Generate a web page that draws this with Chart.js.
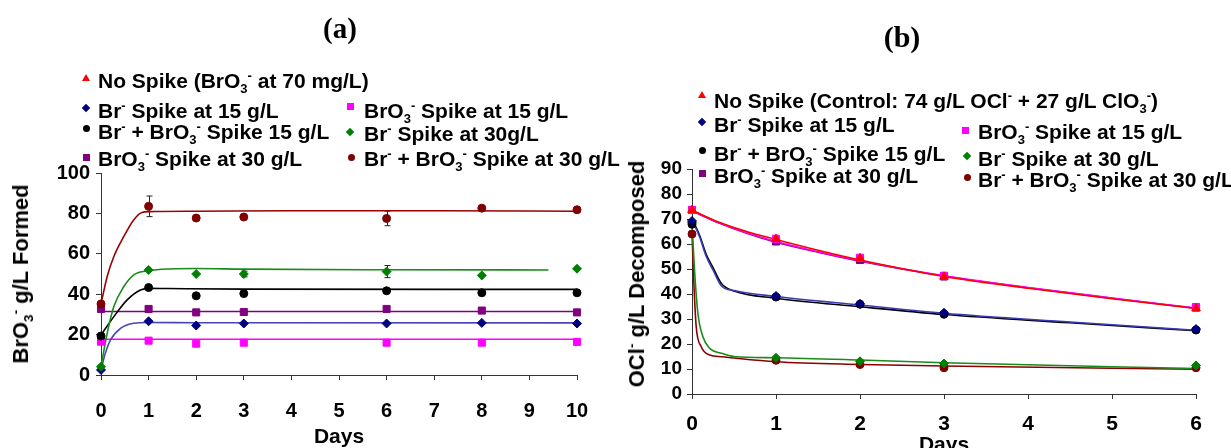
<!DOCTYPE html>
<html lang="en">
<head>
<meta charset="UTF-8">
<title>Bromate formed and hypochlorite decomposed</title>
<script src="https://cdn.jsdelivr.net/npm/chart.js"></script>
<style>
  body { margin:0; width:1231px; height:448px; overflow:hidden; position:relative; background:#fff;
         font-family:'Liberation Sans', Arial, sans-serif; font-weight:bold; color:#000; }
  canvas { position:absolute; top:0; }
  .panel-title { position:absolute; font-family:'Liberation Serif','Times New Roman',serif; font-weight:bold;
                 transform:translate(-50%,-50%); line-height:1; }
  .ytitle { position:absolute; font-size:22px; white-space:nowrap; line-height:1;
            transform:translate(-50%,-50%) rotate(-90deg); }
  .key { position:absolute; font-size:21px; line-height:21px; white-space:nowrap; }
  sub, sup { font-size:0.62em; line-height:0; }
  .mk { position:absolute; box-sizing:border-box; }
</style>
</head>
<body>
<canvas id="chartA" width="615" height="448" style="left:0"></canvas>
<canvas id="chartB" width="616" height="456" style="left:615px"></canvas>
<div class="panel-title" style="left:340px;top:28px;font-size:29px">(a)</div>
<div class="panel-title" style="left:902px;top:37px;font-size:30px">(b)</div>
<div class="ytitle" style="left:21px;top:274px">BrO<sub>3</sub><sup>-</sup> g/L Formed</div>
<div class="ytitle" style="left:637px;top:274px">OCl<sup>-</sup> g/L Decomposed</div>
<div id="keys"></div>

<script>
// ---- (a) bromate formed, g/L ----
const daysA = [0, 1, 2, 3, 6, 8, 10];
const brSpike15A      = [2.5, 26.6, 24.5, 25.5, 25.5, 25.8, 25.5];
const bromateSpike15A = [16.5, 17.0, 15.5, 16.0, 16.0, 16.0, 16.4];
const mixSpike15A     = [19.3, 43.3, 39.2, 40.3, 41.7, 40.7, 40.7];
const brSpike30A      = [4.1, 52.0, 50.0, 50.0, 51.2, 49.3, 52.6];
const bromateSpike30A = [32.7, 32.7, 31.0, 31.2, 32.7, 31.9, 31.0];
const mixSpike30A     = [35.2, 83.5, 77.7, 78.2, 77.5, 82.6, 81.8];
const brSpike30ErrA   = [0, 0, 0, 1.4, 3.0, 0, 0];
const mixSpike30ErrA  = [0, 5.1, 0, 0, 3.6, 0, 1.2];

// fitted trend curves (day, g/L)
const brFit15A      = [[0,2.5],[0.09,10.7],[0.2,17.4],[0.41,23.1],[0.69,25.6],[1,26],[2,25.9],[10,25.8]];
const bromateFit15A = [[0,17.7],[10,17.7]];
const mixFit15A     = [[0,19.8],[0.27,28.9],[0.55,37.2],[0.83,42.1],[1,42.9],[1.4,42.8],[3,42.5],[10,42.4]];
const brFit30A      = [[0,4.1],[0.13,20.7],[0.27,33.9],[0.48,43.8],[0.69,49.6],[1,51.6],[1.45,52.5],[2,52.7],[3,52.4],[6,52.1],[9.4,52]];
const bromateFit30A = [[0,31.4],[10,31.4]];
const mixFit30A     = [[0,35.2],[0.13,48.8],[0.27,58.7],[0.48,68.6],[0.69,76.9],[0.86,80.5],[1,80.9],[2,81.1],[4,81.3],[7,81.3],[10,81.1]];

// ---- (b) hypochlorite decomposed, g/L ----
const daysB = [0, 1, 2, 3, 6];
const noSpikeB        = [73.6, 62.0, 54.3, 46.9, 34.2];
const brSpike15B      = [69.2, 39.2, 36.1, 32.5, 26.0];
const bromateSpike15B = [73.6, 62.1, 54.5, 47.3, 34.8];
const mixSpike15B     = [67.9, 38.8, 35.9, 31.9, 25.6];
const brSpike30B      = [68.5, 14.5, 13.1, 12.2, 11.4];
const bromateSpike30B = [73.6, 61.0, 53.6, 47.0, 34.6];
const mixSpike30B     = [64.0, 13.5, 11.8, 10.5, 10.5];

const noSpikeFitB   = [[0,73.5],[0.33,68.6],[0.66,64.9],[1,61.8],[1.5,57.5],[2,53.6],[3,47],[4,42.3],[5,38.1],[6,34.2]];
const bromateFit15B = [[0,73.3],[0.33,68.4],[0.66,64.4],[1,61],[1.5,56.9],[2,53.3],[3,47.3],[4,42.6],[5,38.4],[6,34.4]];
const bromateFit30B = [[0,73.2],[0.33,68.3],[0.66,64.2],[1,60.7],[1.5,56.7],[2,53.1],[3,47.2],[4,42.5],[5,38.3],[6,34.3]];
const brFit15B      = [[0,69.8],[0.09,62.9],[0.17,55],[0.25,49.6],[0.35,43.2],[0.5,41.4],[1,39],[2,35.6],[3,32.3],[4.5,28.8],[6,25.5]];
const mixFit15B     = [[0,70.3],[0.09,63.5],[0.17,55.8],[0.25,50.6],[0.35,44.2],[0.5,41.2],[1,38.3],[2,34.9],[3,31.8],[4.5,28.5],[6,25.3]];
const brFit30B      = [[0,68],[0.03,49.6],[0.07,32.3],[0.13,22.9],[0.21,18.3],[0.35,16.3],[0.5,15],[1,14.5],[2,13.6],[3,12.5],[6,10.2]];
const mixFit30B     = [[0,64.5],[0.024,42.9],[0.05,26.9],[0.11,18.9],[0.21,15.6],[0.35,14.9],[1,12.9],[2,11.8],[3,11.2],[6,9.9]];

// legend captions (shared by both panels except the control line)
const keyNoSpikeA = 'No Spike (BrO<sub>3</sub><sup>-</sup> at 70 mg/L)';
const keyNoSpikeB = 'No Spike (Control: 74 g/L OCl<sup>-</sup> + 27 g/L ClO<sub>3</sub><sup>-</sup>)';
const keyBr15 = 'Br<sup>-</sup> Spike at 15 g/L';
const keyBromate15 = 'BrO<sub>3</sub><sup>-</sup> Spike at 15 g/L';
const keyMix15 = 'Br<sup>-</sup> + BrO<sub>3</sub><sup>-</sup> Spike 15 g/L';
const keyBr30A = 'Br<sup>-</sup> Spike at 30g/L';
const keyBr30B = 'Br<sup>-</sup> Spike at 30 g/L';
const keyBromate30 = 'BrO<sub>3</sub><sup>-</sup> Spike at 30 g/L';
const keyMix30 = 'Br<sup>-</sup> + BrO<sub>3</sub><sup>-</sup> Spike at 30 g/L';

const FONT = "'Liberation Sans', Arial, sans-serif";
const C = { red:'#ff0000', navy:'#000080', magenta:'#ff00ff', black:'#000000',
            green:'#008000', purple:'#800080', maroon:'#800000' };

function points(days, vals, color, shape, r, errs) {
  return {
    data: days.map((d, i) => ({ x: d, y: vals[i] })),
    showLine: false, pointStyle: shape, pointRadius: r, pointBorderWidth: 1,
    pointBackgroundColor: color, pointBorderColor: color,
    errors: errs, clip: false, order: 0
  };
}
function curve(pairs, color, w) {
  return {
    data: pairs.map(p => ({ x: p[0], y: p[1] })),
    showLine: true, borderColor: color, borderWidth: w || 1.6, pointRadius: 0,
    cubicInterpolationMode: 'monotone', clip: false, order: 1
  };
}

// vertical error bars for datasets carrying an `errors` array
const errorBars = {
  id: 'errorBars',
  beforeDatasetsDraw(chart) {
    const { ctx, scales: { x, y } } = chart;
    ctx.save();
    ctx.strokeStyle = '#222';
    ctx.lineWidth = 1;
    chart.data.datasets.forEach(ds => {
      if (!ds.errors) return;
      ds.data.forEach((p, i) => {
        const e = ds.errors[i];
        if (!e) return;
        const px = Math.round(x.getPixelForValue(p.x)) + 0.5;
        const t = y.getPixelForValue(p.y + e), b = y.getPixelForValue(p.y - e);
        ctx.beginPath();
        ctx.moveTo(px, t); ctx.lineTo(px, b);
        ctx.moveTo(px - 3, t); ctx.lineTo(px + 3, t);
        ctx.moveTo(px - 3, b); ctx.lineTo(px + 3, b);
        ctx.stroke();
      });
    });
    ctx.restore();
  }
};

function axes(o) {
  const tickFont = s => ({ family: FONT, size: s, weight: 'bold' });
  return {
    x: {
      type: 'linear', min: 0, max: o.xMax,
      border: { color: '#333', width: 1 },
      grid: { drawOnChartArea: false, tickLength: 5, tickColor: '#333' },
      ticks: { stepSize: 1, autoSkip: false, color: '#000', font: tickFont(o.xFont), padding: o.xPad, maxRotation: 0 },
      title: { display: true, text: 'Days', color: '#000', padding: 0,
               font: { family: FONT, size: 21, weight: 'bold', lineHeight: 1 } },
      afterFit(s) { s.height = o.xHeight; }
    },
    y: {
      min: 0, max: o.yMax,
      border: { color: '#333', width: 1 },
      grid: { drawOnChartArea: false, tickLength: 5, tickColor: '#333' },
      ticks: { stepSize: o.yStep, autoSkip: false, color: '#000', font: tickFont(o.yFont), padding: o.yPad },
      afterFit(s) { s.width = o.yWidth; }
    }
  };
}

function makeChart(id, datasets, padding, scales) {
  return new Chart(document.getElementById(id), {
    type: 'scatter',
    data: { datasets },
    options: {
      responsive: false, animation: false,
      layout: { padding },
      plugins: { legend: { display: false }, tooltip: { enabled: false } },
      scales
    },
    plugins: [errorBars]
  });
}

makeChart('chartA', [
  points(daysA, mixSpike30A, C.maroon, 'circle', 4, mixSpike30ErrA),
  points(daysA, brSpike30A, C.green, 'rectRot', 4.5, brSpike30ErrA),
  points(daysA, mixSpike15A, C.black, 'circle', 4),
  points(daysA, bromateSpike30A, C.purple, 'rect', 5),
  points(daysA, brSpike15A, C.navy, 'rectRot', 4.5),
  points(daysA, bromateSpike15A, C.magenta, 'rect', 5),
  curve(mixFit30A, '#990000'),
  curve(brFit30A, '#1a8a1a'),
  curve(mixFit15A, C.black),
  curve(bromateFit30A, C.purple),
  curve(brFit15A, '#4646b4'),
  curve(bromateFit15A, C.magenta)
], { left: 0, right: 38, top: 173, bottom: 0 },
   axes({ xMax: 10, xFont: 20, xPad: 19, xHeight: 73, yMax: 100, yStep: 20, yFont: 20, yPad: 6, yWidth: 101 }));

makeChart('chartB', [
  points(daysB, noSpikeB, C.red, 'triangle', 5),
  points(daysB, bromateSpike15B, C.magenta, 'rect', 5),
  points(daysB, bromateSpike30B, C.purple, 'rect', 5),
  points(daysB, brSpike15B, C.navy, 'rectRot', 4.5),
  points(daysB, mixSpike15B, C.black, 'circle', 4),
  points(daysB, brSpike30B, C.green, 'rectRot', 4.5),
  points(daysB, mixSpike30B, C.maroon, 'circle', 4),
  curve(noSpikeFitB, C.red),
  curve(bromateFit15B, C.magenta),
  curve(bromateFit30B, C.purple),
  curve(brFit15B, '#3a3ab4'),
  curve(mixFit15B, C.black),
  curve(brFit30B, '#1a8a1a'),
  curve(mixFit30B, '#8b0000')
], { left: 0, right: 35, top: 169, bottom: 0 },
   axes({ xMax: 6, xFont: 21, xPad: 12.5, xHeight: 62, yMax: 90, yStep: 10, yFont: 19, yPad: 5, yWidth: 77 }));

// ---- legends ----
function marker(shape, color, cx, cy) {
  const m = document.createElement('div');
  m.className = 'mk';
  const s = 7;
  if (shape === 'triangle') {
    m.style.cssText = `left:${cx - 4}px;top:${cy - 4}px;width:0;height:0;border-left:4px solid transparent;border-right:4px solid transparent;border-bottom:7px solid ${color}`;
  } else if (shape === 'diamond') {
    m.style.cssText = `left:${cx - 3}px;top:${cy - 3}px;width:6px;height:6px;background:${color};transform:rotate(45deg)`;
  } else if (shape === 'circle') {
    m.style.cssText = `left:${cx - 3.5}px;top:${cy - 3.5}px;width:${s}px;height:${s}px;border-radius:50%;background:${color}`;
  } else {
    m.style.cssText = `left:${cx - 3.5}px;top:${cy - 3.5}px;width:${s}px;height:${s}px;background:${color}`;
  }
  return m;
}
function key(shape, color, mx, my, html, tx, ty) {
  const box = document.getElementById('keys');
  box.appendChild(marker(shape, color, mx, my));
  const t = document.createElement('div');
  t.className = 'key';
  t.style.left = tx + 'px';
  t.style.top = (ty - 10.5) + 'px';
  t.innerHTML = html;
  box.appendChild(t);
}

key('triangle', C.red,     86,  78, keyNoSpikeA,  98,  80);
key('diamond',  C.navy,    86, 108, keyBr15,      98, 110);
key('square',   C.magenta, 350, 106, keyBromate15, 364, 110);
key('circle',   C.black,   86, 128, keyMix15,     98, 131);
key('diamond',  C.green,   350, 132, keyBr30A,     364, 133);
key('square',   C.purple,  86, 157, keyBromate30, 98, 158);
key('circle',   C.maroon,  351, 157, keyMix30,     364, 158);

key('triangle', C.red,     702,  95, keyNoSpikeB,  714, 100);
key('diamond',  C.navy,    702, 122, keyBr15,      714, 124);
key('square',   C.magenta, 965, 130, keyBromate15, 978, 131);
key('circle',   C.black,   702, 150, keyMix15,     714, 153);
key('diamond',  C.green,   967, 156, keyBr30B,     978, 158);
key('square',   C.purple,  702, 173, keyBromate30, 714, 175);
key('circle',   C.maroon,  967, 177, keyMix30,     978, 179);
</script>
</body>
</html>
